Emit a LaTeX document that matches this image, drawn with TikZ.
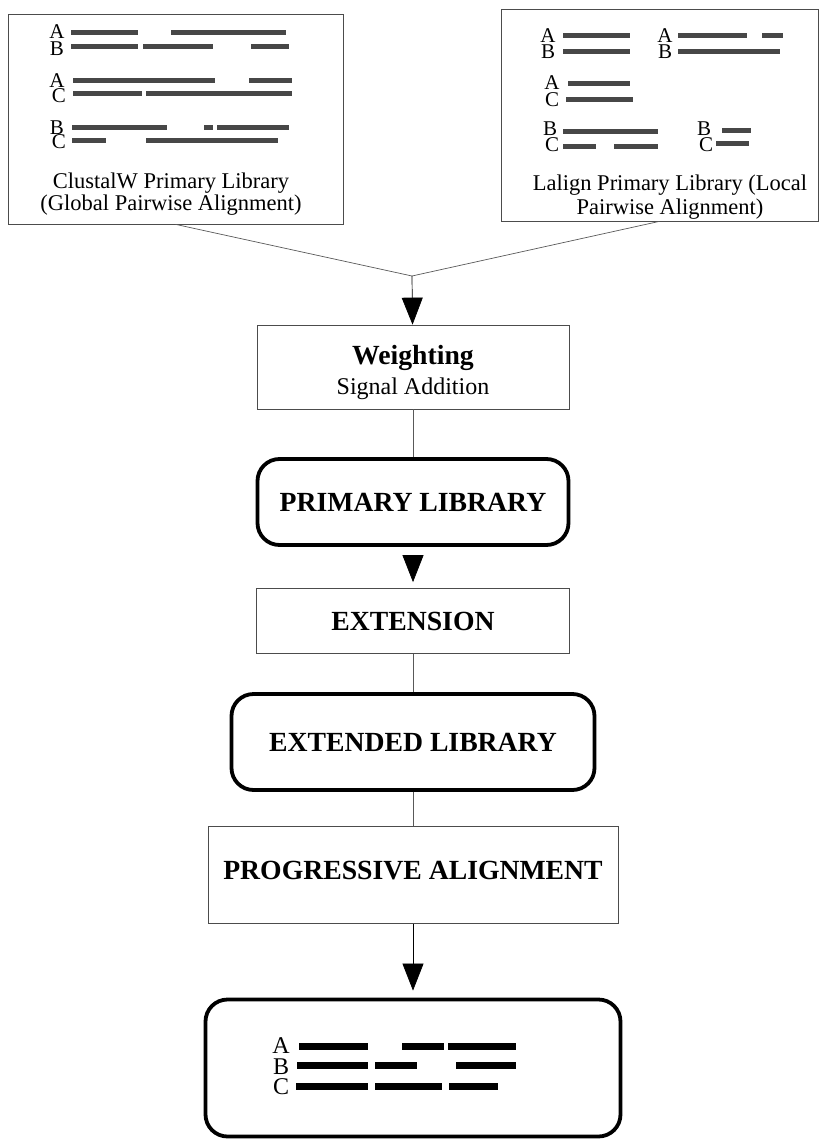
\documentclass[tikz,border=0pt]{standalone}
\usepackage{fontspec}
\setmainfont{Liberation Serif}
\usetikzlibrary{arrows.meta,positioning}

\begin{document}
\begin{tikzpicture}[x=1pt,y=-1pt,on grid,
    link/.style={draw=black!65,line width=0.7pt},
    flow/.style={draw=black,line width=0.7pt,-{Triangle[length=27pt,width=21pt]}},
    srcbox/.style={draw=black!70,line width=0.7pt},
    procbox/.style={draw=black!70,line width=0.7pt,align=center,font=\fontsize{27.7}{30}\selectfont\bfseries},
    libbox/.style={draw,line width=3.8pt,rounded corners=22pt,font=\fontsize{27.7}{30}\selectfont\bfseries},
    caption/.style={align=center,font=\fontsize{22.5}{#1}\selectfont},
    seqname/.style={inner sep=0pt,font=\fontsize{#1}{#1}\selectfont},
    seqbar/.style={line width=5pt,draw=black!72},
    endbar/.style={line width=7pt,draw=black}]
    \useasboundingbox (0,0) rectangle (825,1140);

    % primary libraries
    \node[srcbox, minimum width=335pt, minimum height=210pt] (clw) at (175.5,119) {};
    \node[srcbox, minimum width=317pt, minimum height=212pt] (lal) at (659.5,115) {};
    \node[caption=20] (clwcap) at (171,194) {ClustalW Primary Library\\(Global Pairwise Alignment)};
    \node[caption=24] (lalcap) at (670,197) {Lalign Primary Library (Local\\Pairwise Alignment)};

    \foreach \t/\x/\y [count=\i] in {A/57/32,B/57/49,A/57/81,C/59/96,B/57/128,C/59/142}
        \node[seqname=21] (cw\i) at (\x,\y) {\t};
    \foreach \y/\a/\b in {33/71/138,33/171/286,47/71/138,47/143/213,47/251/289,
                          80/73/215,80/249/292,93/73/142,93/146/292,
                          127/72/167,127/204/213,127/217/289,140/72/106,140/146/278}
        \draw[seqbar] (\a,\y) -- (\b,\y);

    \foreach \t/\x/\y [count=\i] in {A/548/36,B/548/52,A/665/36,B/665/52,A/552/83,
                                      C/552/100,B/550/129,C/552/145,B/704/129,C/706/145}
        \node[seqname=21] (la\i) at (\x,\y) {\t};
    \foreach \y/\a/\b in {36/563/630,52/563/630,36/678/747,36/762/783,52/678/780,
                          83/568/630,99/566/633,131/563/658,146/563/596,146/614/658,
                          130/722/751,143/716/749}
        \draw[seqbar] (\a,\y) -- (\b,\y);

    % main chain
    \coordinate (join) at (412,276);
    \node[procbox, minimum width=312pt, minimum height=84pt] (weight) at (413,367)
        {\rule{0pt}{30pt}Weighting\\{\fontsize{24}{24}\selectfont\mdseries Signal Addition}};
    \node[libbox,  minimum width=311pt, minimum height=86pt] (prim)  [below=135pt of weight] {PRIMARY LIBRARY};
    \node[procbox, minimum width=313pt, minimum height=65pt] (ext)   [below=119pt of prim]  {EXTENSION};
    \node[libbox,  minimum width=363pt, minimum height=96pt] (extd)  [below=121pt of ext]   {EXTENDED LIBRARY};
    \node[procbox, minimum width=410pt, minimum height=97pt] (prog)  [below=133pt of extd]
        {PROGRESSIVE ALIGNMENT\rule[-10pt]{0pt}{10pt}};
    \node[libbox,  minimum width=415pt, minimum height=137pt] (final) [below=193pt of prog] {};

    % final alignment
    \foreach \t/\x/\y [count=\i] in {A/281/1046,B/281/1067,C/281/1087}
        \node[seqname=24] (fa\i) at (\x,\y) {\t};
    \foreach \y/\a/\b in {1046/299/368,1046/402/444,1046/448/516,
                          1065/297/368,1065/375/417,1065/456/516,
                          1086/296/368,1086/375/442,1086/449/498}
        \draw[endbar] (\a,\y) -- (\b,\y);

    \path
    (clw.south)  edge [link]  (join)
    (lal.south)  edge [link]  (join)
    (weight)     edge [link]  (prim)
    (ext)        edge [link]  (extd)
    (extd)       edge [link]  (prog)
    (join)       edge [flow]  (weight)
    (prim)       edge [flow,shorten <=11pt,shorten >=6pt] (ext)
    (prog)       edge [flow,shorten >=7pt] (final);
\end{tikzpicture}
\end{document}
